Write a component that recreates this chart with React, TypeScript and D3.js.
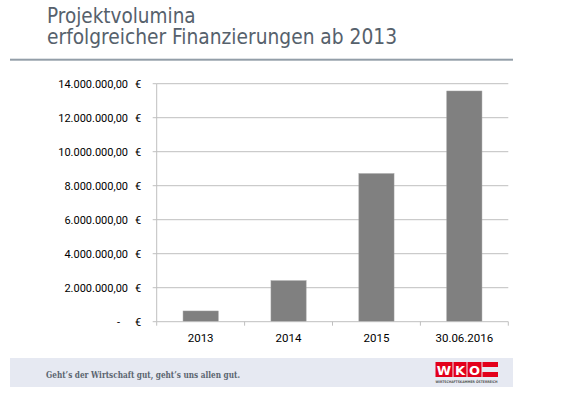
import React, { useRef, useEffect } from "react";
import * as d3 from "d3";

const categories = ["2013", "2014", "2015", "30.06.2016"];
const volumes = [630000, 2410000, 8710000, 13570000];
const yTicks = [0, 2000000, 4000000, 6000000, 8000000, 10000000, 12000000, 14000000];

const W = 568;
const H = 394;

const fmt = (v: number) => {
  if (v === 0) return "-";
  const s = d3.format(",.2f")(v); // 14,000,000.00
  return s.replace(/,/g, "#").replace(".", ",").replace(/#/g, ".");
};

const App = () => {
  const ref = useRef<SVGSVGElement>(null);

  useEffect(() => {
    const svg = d3.select(ref.current);
    svg.selectAll("*").remove();

    const left = 156.7, right = 508.3, top = 83.7, bottom = 321.7;

    const x = d3.scaleBand().domain(categories).range([left, right]).paddingInner(0.6).paddingOuter(0.3);
    const y = d3.scaleLinear().domain([0, 14000000]).range([bottom, top]);

    // title
    const title = svg.append("g")
      .attr("font-family", "'DejaVu Sans Condensed', 'DejaVu Sans', sans-serif")
      .attr("font-stretch", "condensed")
      .attr("font-size", 20.5)
      .attr("fill", "#56616c");
    title.append("text").attr("x", 47).attr("y", 22.5).text("Projektvolumina");
    title.append("text").attr("x", 47).attr("y", 44).attr("textLength", 350).attr("lengthAdjust", "spacingAndGlyphs")
      .text("erfolgreicher Finanzierungen ab 2013");

    svg.append("rect").attr("x", 10).attr("y", 58.7).attr("width", 503).attr("height", 2).attr("fill", "#939ea8");

    // gridlines
    svg.append("g").selectAll("line").data(yTicks.filter(d => d > 0)).join("line")
      .attr("x1", left).attr("x2", right)
      .attr("y1", d => y(d)).attr("y2", d => y(d))
      .attr("stroke", "#bfbfbf").attr("stroke-width", 1);

    // bars
    svg.append("g").selectAll("rect").data(volumes).join("rect")
      .attr("x", (_, i) => x(categories[i])!)
      .attr("width", x.bandwidth())
      .attr("y", d => y(d))
      .attr("height", d => bottom - y(d))
      .attr("fill", "#808080")
      .attr("stroke", "#9a9a9a").attr("stroke-width", 0.5);

    // axes lines
    const axisG = svg.append("g").attr("stroke", "#bfbfbf").attr("stroke-width", 1);
    axisG.append("line").attr("x1", left).attr("x2", left).attr("y1", top).attr("y2", bottom);
    axisG.append("line").attr("x1", left).attr("x2", right).attr("y1", bottom).attr("y2", bottom);
    axisG.selectAll(".yt").data(yTicks).join("line").attr("class", "yt")
      .attr("x1", left - 4).attr("x2", left).attr("y1", d => y(d)).attr("y2", d => y(d));
    const edges = categories.map(c => x(c)! - x.step() * x.paddingInner() / 2).concat([right]);
    axisG.selectAll(".xt").data(edges).join("line").attr("class", "xt")
      .attr("x1", d => d).attr("x2", d => d).attr("y1", bottom).attr("y2", bottom + 4);

    // y labels
    const yl = svg.append("g").attr("font-family", "Roboto, sans-serif").attr("font-size", 11).attr("fill", "#000");
    yl.selectAll(".num").data(yTicks).join("text").attr("class", "num")
      .attr("x", d => (d === 0 ? 120 : 128)).attr("y", d => y(d) + 4)
      .attr("text-anchor", "end").text(d => fmt(d));
    yl.selectAll(".eur").data(yTicks).join("text").attr("class", "eur")
      .attr("x", 135).attr("y", d => y(d) + 4).text("€");

    // x labels
    svg.append("g").attr("font-family", "Roboto, sans-serif").attr("font-size", 11.5).attr("fill", "#000")
      .selectAll("text").data(categories).join("text")
      .attr("x", d => x(d)! + x.bandwidth() / 2).attr("y", bottom + 20)
      .attr("text-anchor", "middle").text(d => d);

    // footer
    svg.append("rect").attr("x", 10).attr("y", 358).attr("width", 503).attr("height", 29).attr("fill", "#e6e9f2");
    svg.append("text").attr("x", 46).attr("y", 378)
      .attr("font-family", "'DejaVu Serif Condensed', 'DejaVu Serif', serif")
      .attr("font-stretch", "condensed")
      .attr("font-weight", "bold").attr("font-size", 9.5).attr("fill", "#5b6570")
      .attr("textLength", 194).attr("lengthAdjust", "spacingAndGlyphs")
      .text("Geht’s der Wirtschaft gut, geht’s uns allen gut.");

    // logo
    const logo = svg.append("g");
    const letters = [["W", 435, 18], ["K", 453, 14], ["O", 467, 15]] as [string, number, number][];
    letters.forEach(([l, lx, lw]) => {
      logo.append("rect").attr("x", lx + 0.5).attr("y", 362).attr("width", lw - 1).attr("height", 15).attr("fill", "#e3001b");
      logo.append("text").attr("x", lx + lw / 2).attr("y", 374.5).attr("text-anchor", "middle")
        .attr("font-family", "'DejaVu Sans', sans-serif").attr("font-weight", "bold").attr("font-size", 13)
        .attr("fill", "#fff").text(l);
    });
    logo.append("rect").attr("x", 482.5).attr("y", 362).attr("width", 15.5).attr("height", 5).attr("fill", "#e3001b");
    logo.append("rect").attr("x", 482.5).attr("y", 372).attr("width", 15.5).attr("height", 5).attr("fill", "#e3001b");
    logo.append("text").attr("x", 435.5).attr("y", 382.5).attr("textLength", 62).attr("lengthAdjust", "spacingAndGlyphs")
      .attr("font-family", "'DejaVu Sans', sans-serif").attr("font-size", 3.5).attr("font-weight", "bold")
      .attr("fill", "#555").text("WIRTSCHAFTSKAMMER ÖSTERREICH");
  }, []);

  return (
    <svg ref={ref} width={W} height={H}
      style={{ position: "absolute", left: 0, top: 0, background: "#fff" }} />
  );
};

export default App;
